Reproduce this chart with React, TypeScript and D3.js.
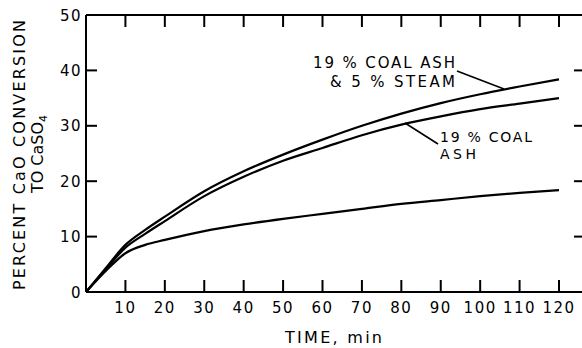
import React from "react";
import * as d3 from "d3";

const times = [0, 5, 10, 15, 20, 30, 40, 50, 60, 70, 80, 90, 100, 110, 120];
const ashSteam = [0, 4.3, 8.5, 11.2, 13.6, 18.2, 21.8, 24.8, 27.5, 30.0, 32.2, 34.1, 35.7, 37.1, 38.4];
const ashOnly = [0, 4.1, 8.0, 10.5, 12.8, 17.3, 20.8, 23.7, 26.0, 28.3, 30.2, 31.7, 33.0, 34.0, 35.0];
const noAsh = [0, 3.8, 7.0, 8.5, 9.4, 11.0, 12.2, 13.2, 14.1, 15.0, 15.9, 16.6, 17.3, 17.9, 18.4];

const xTicks = [10, 20, 30, 40, 50, 60, 70, 80, 90, 100, 110, 120];
const yTicks = [0, 10, 20, 30, 40, 50];

const FONT = "'DejaVu Sans', sans-serif";

export default function App() {
  const W = 582, H = 348;
  const x = d3.scaleLinear().domain([0, 120]).range([86, 559]);
  const y = d3.scaleLinear().domain([0, 50]).range([292, 15]);
  const xRight = 583;
  const line = d3
    .line<number>()
    .x((_, i) => x(times[i]))
    .y((d) => y(d))
    .curve(d3.curveMonotoneX);

  const series = [ashSteam, ashOnly, noAsh];

  return (
    <svg
      width={W}
      height={H}
      style={{ position: "absolute", left: 0, top: 0, background: "#fff" }}
      fontFamily={FONT}
    >
      <rect x={0} y={0} width={W} height={H} fill="#fff" />
      {/* frame */}
      <g stroke="#000" strokeWidth={2} fill="none">
        <line x1={x(0)} y1={y(0)} x2={xRight} y2={y(0)} />
        <line x1={x(0)} y1={y(50)} x2={xRight} y2={y(50)} />
        <line x1={x(0)} y1={y(0)} x2={x(0)} y2={y(50)} />
        <line x1={xRight} y1={y(0)} x2={xRight} y2={y(50)} />
        {xTicks.map((t) => (
          <g key={"xt" + t}>
            <line x1={x(t)} x2={x(t)} y1={y(0)} y2={y(0) - 12} />
            <line x1={x(t)} x2={x(t)} y1={y(50)} y2={y(50) + 12} />
          </g>
        ))}
        {yTicks.filter((v) => v > 0 && v < 50).map((v) => (
          <g key={"yt" + v}>
            <line x1={x(0)} x2={x(0) + 11} y1={y(v)} y2={y(v)} />
            <line x1={xRight} x2={xRight - 9} y1={y(v)} y2={y(v)} />
          </g>
        ))}
      </g>
      {/* tick labels */}
      <g fontSize={15} fill="#000">
        {xTicks.map((t) => (
          <text key={"xl" + t} x={x(t)} y={313} textAnchor="middle" letterSpacing={1.5}>
            {String(t)}
          </text>
        ))}
        {yTicks.map((v) => (
          <text key={"yl" + v} x={82} y={y(v) + 5.5} textAnchor="end" letterSpacing={1.5}>
            {String(v)}
          </text>
        ))}
      </g>
      {/* curves */}
      <g fill="none" stroke="#000" strokeWidth={2.2}>
        {series.map((s, i) => (
          <path key={"s" + i} d={line(s) || ""} />
        ))}
      </g>
      {/* axis titles */}
      <text
        transform="translate(25,155) rotate(-90)"
        textAnchor="middle"
        fontSize={16}
        textLength={270}
        lengthAdjust="spacing"
      >
        PERCENT CaO CONVERSION
      </text>
      <text
        transform="translate(43,154) rotate(-90)"
        textAnchor="middle"
        fontSize={16}
      >
        TO CaSO<tspan fontSize={11} dy={4}>4</tspan>
      </text>
      <text x={285} y={343} fontSize={16} textLength={97} lengthAdjust="spacing">
        TIME, min
      </text>
      {/* annotations */}
      <g fontSize={15} fill="#000">
        <text x={313} y={68} textLength={142} lengthAdjust="spacing">19 % COAL ASH</text>
        <text x={330} y={87} textLength={125} lengthAdjust="spacing">&amp; 5 % STEAM</text>
      </g>
      <g fontSize={14} fill="#000">
        <text x={440} y={142} textLength={92} lengthAdjust="spacing">19 % COAL</text>
        <text x={440} y={159} textLength={36} lengthAdjust="spacing">ASH</text>
      </g>
      <g stroke="#000" strokeWidth={1.6}>
        <line x1={457} y1={71} x2={504} y2={89} />
        <line x1={405} y1={123} x2={438} y2={144} />
      </g>
    </svg>
  );
}
